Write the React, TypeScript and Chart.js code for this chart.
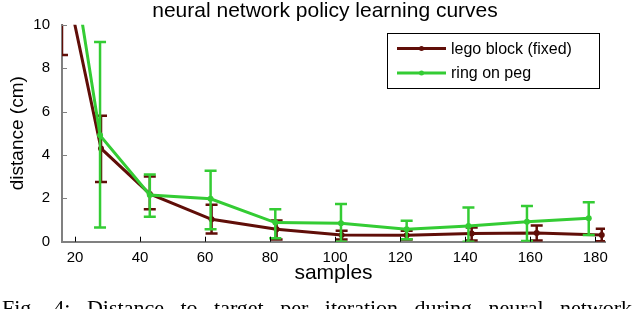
import React, { useEffect, useRef } from "react";
import { Chart, registerables } from "chart.js";

Chart.register(...registerables);

// ---- data ----
const titleText = "neural network policy learning curves";
const xTitle = "samples";
const yTitle = "distance (cm)";
const captionText = "Fig. 4: Distance to target per iteration during neural network";

const xTicks = [20, 40, 60, 80, 100, 120, 140, 160, 180];
const yTicks = [0, 2, 4, 6, 8, 10];

const legoLabel = "lego block (fixed)";
const legoX = [16, 28, 43, 62, 82, 102, 122, 142, 162, 182];
const legoY = [12.8, 4.3, 2.2, 1.03, 0.57, 0.31, 0.3, 0.38, 0.4, 0.31];
const legoLow = [8.6, 2.75, 1.5, 0.38, 0.1, 0.1, 0.1, 0.05, 0.05, 0.02];
const legoHigh = [17, 5.8, 3.0, 1.7, 0.98, 0.5, 0.5, 0.65, 0.75, 0.6];

const ringLabel = "ring on peg";
const ringX = [16, 27.7, 43, 61.7, 81.6, 101.8, 122, 141, 159, 178];
const ringY = [16, 4.9, 2.15, 1.98, 0.88, 0.85, 0.57, 0.72, 0.92, 1.08];
const ringLow = [12, 0.65, 1.15, 0.57, 0.16, 0.0, 0.11, 0.0, 0.03, 0.31];
const ringHigh = [20, 9.2, 3.1, 3.27, 1.49, 1.74, 0.97, 1.58, 1.64, 1.82];

const legoColor = "rgb(96,14,8)";
const ringColor = "rgb(52,204,52)";
const axisColor = "#808080";
const SANS = "'Liberation Sans', Arial, sans-serif";

const errorBars = [
  { low: legoLow, high: legoHigh },
  { low: ringLow, high: ringHigh },
];

const errorBarPlugin = {
  id: "errorBars",
  afterDatasetDraw(chart: any, args: any) {
    const i = args.index;
    const eb = errorBars[i];
    if (!eb) return;
    const ds = chart.data.datasets[i];
    const { ctx, chartArea } = chart;
    const xs = chart.scales.x;
    const ys = chart.scales.y;
    ctx.save();
    ctx.beginPath();
    ctx.rect(chartArea.left, chartArea.top, chartArea.right - chartArea.left, chartArea.bottom - chartArea.top);
    ctx.clip();
    ctx.strokeStyle = ds.borderColor;
    ctx.lineWidth = 2.5;
    ds.data.forEach((p: any, j: number) => {
      const px = xs.getPixelForValue(p.x);
      const pl = ys.getPixelForValue(eb.low[j]);
      const ph = ys.getPixelForValue(eb.high[j]);
      const cw = 6;
      ctx.beginPath();
      ctx.moveTo(px, pl);
      ctx.lineTo(px, ph);
      ctx.moveTo(px - cw, pl);
      ctx.lineTo(px + cw, pl);
      ctx.moveTo(px - cw, ph);
      ctx.lineTo(px + cw, ph);
      ctx.stroke();
    });
    ctx.restore();
  },
};

const decorPlugin = {
  id: "decor",
  afterDraw(chart: any) {
    const { ctx, chartArea } = chart;
    const xs = chart.scales.x;
    const ys = chart.scales.y;
    ctx.save();
    // inside tick marks
    ctx.lineWidth = 1;
    ctx.strokeStyle = axisColor;
    yTicks.forEach((v) => {
      if (v === 0) return;
      const py = Math.round(ys.getPixelForValue(v)) + 0.5;
      ctx.beginPath();
      ctx.moveTo(chartArea.left, py);
      ctx.lineTo(chartArea.left + 5, py);
      ctx.stroke();
    });
    ctx.strokeStyle = "#000";
    xTicks.forEach((v) => {
      const px = Math.round(xs.getPixelForValue(v)) + 0.5;
      ctx.beginPath();
      ctx.moveTo(px, chartArea.bottom);
      ctx.lineTo(px, chartArea.bottom - 5);
      ctx.stroke();
    });
    // title
    ctx.fillStyle = "#000";
    ctx.font = `21px ${SANS}`;
    ctx.textAlign = "center";
    ctx.textBaseline = "middle";
    ctx.fillText(titleText, 325, 11);
    // legend
    const bx = 387, by = 33, bw = 212, bh = 55;
    ctx.strokeStyle = "#000";
    ctx.lineWidth = 1;
    ctx.fillStyle = "#fff";
    ctx.fillRect(bx, by, bw, bh);
    ctx.strokeRect(bx + 0.5, by + 0.5, bw, bh);
    chart.data.datasets.forEach((ds: any, k: number) => {
      const ly = 48.5 + k * 24.5;
      ctx.strokeStyle = ds.borderColor;
      ctx.lineWidth = 3;
      ctx.beginPath();
      ctx.moveTo(397, ly);
      ctx.lineTo(446, ly);
      ctx.stroke();
      ctx.fillStyle = ds.borderColor;
      ctx.beginPath();
      ctx.arc(421.5, ly, 2.5, 0, Math.PI * 2);
      ctx.fill();
      ctx.fillStyle = "#000";
      ctx.font = `16px ${SANS}`;
      ctx.textAlign = "left";
      ctx.textBaseline = "middle";
      ctx.fillText(ds.label, 451, ly + 1);
    });
    ctx.restore();
  },
};

export default function App() {
  const canvasRef = useRef<HTMLCanvasElement | null>(null);

  useEffect(() => {
    const canvas = canvasRef.current;
    if (!canvas) return;
    const chart = new Chart(canvas, {
      type: "line",
      data: {
        datasets: [
          {
            label: legoLabel,
            data: legoX.map((x, i) => ({ x, y: legoY[i] })),
            borderColor: legoColor,
            backgroundColor: legoColor,
            borderWidth: 3,
            pointRadius: 3,
            pointBackgroundColor: legoColor,
            pointBorderWidth: 0,
            tension: 0,
            order: 1,
          },
          {
            label: ringLabel,
            data: ringX.map((x, i) => ({ x, y: ringY[i] })),
            borderColor: ringColor,
            backgroundColor: ringColor,
            borderWidth: 3,
            pointRadius: 3,
            pointBackgroundColor: ringColor,
            pointBorderWidth: 0,
            tension: 0,
            order: 0,
          },
        ],
      },
      options: {
        animation: false,
        responsive: false,
        maintainAspectRatio: false,
        devicePixelRatio: 1,
        layout: { padding: { top: 24.7, right: 35, bottom: 0, left: 0 } },
        plugins: {
          legend: { display: false },
          title: { display: false },
          tooltip: { enabled: false },
        },
        scales: {
          x: {
            type: "linear",
            min: 16,
            max: 183,
            afterFit: (s: any) => {
              s.height = 67.3;
            },
            afterBuildTicks: (s: any) => {
              s.ticks = xTicks.map((v) => ({ value: v }));
            },
            grid: { display: false, drawTicks: false },
            border: { display: true, color: axisColor, width: 2 },
            ticks: {
              color: "#000",
              font: { family: SANS, size: 15 },
              padding: 7,
              maxRotation: 0,
              autoSkip: false,
            },
            title: {
              display: true,
              text: xTitle,
              color: "#000",
              font: { family: SANS, size: 21, lineHeight: 1.1 },
              padding: { top: 0, bottom: 24 },
            },
          },
          y: {
            type: "linear",
            min: 0,
            max: 10,
            afterFit: (s: any) => {
              s.width = 62;
            },
            afterBuildTicks: (s: any) => {
              s.ticks = yTicks.map((v) => ({ value: v }));
            },
            grid: { display: false, drawTicks: false },
            border: { display: true, color: axisColor, width: 2 },
            ticks: {
              color: "#000",
              font: { family: SANS, size: 15 },
              padding: 12,
            },
            title: {
              display: true,
              text: yTitle,
              color: "#000",
              font: { family: SANS, size: 19, lineHeight: 1.1 },
              padding: { top: 7, bottom: 0 },
            },
          },
        },
      },
      plugins: [errorBarPlugin, decorPlugin],
    });
    return () => chart.destroy();
  }, []);

  return (
    <div
      style={{
        position: "absolute",
        left: 0,
        top: 0,
        width: 640,
        height: 309,
        overflow: "hidden",
        background: "#fff",
      }}
    >
      <canvas ref={canvasRef} width={640} height={309} style={{ display: "block", width: 640, height: 309 }} />
      <div
        style={{
          position: "absolute",
          left: 2,
          top: 297,
          whiteSpace: "nowrap",
          fontFamily: "'Liberation Serif', 'Times New Roman', serif",
          fontSize: 22,
          lineHeight: "22px",
          wordSpacing: 11,
          color: "#000",
        }}
      >
        {captionText}
      </div>
    </div>
  );
}
